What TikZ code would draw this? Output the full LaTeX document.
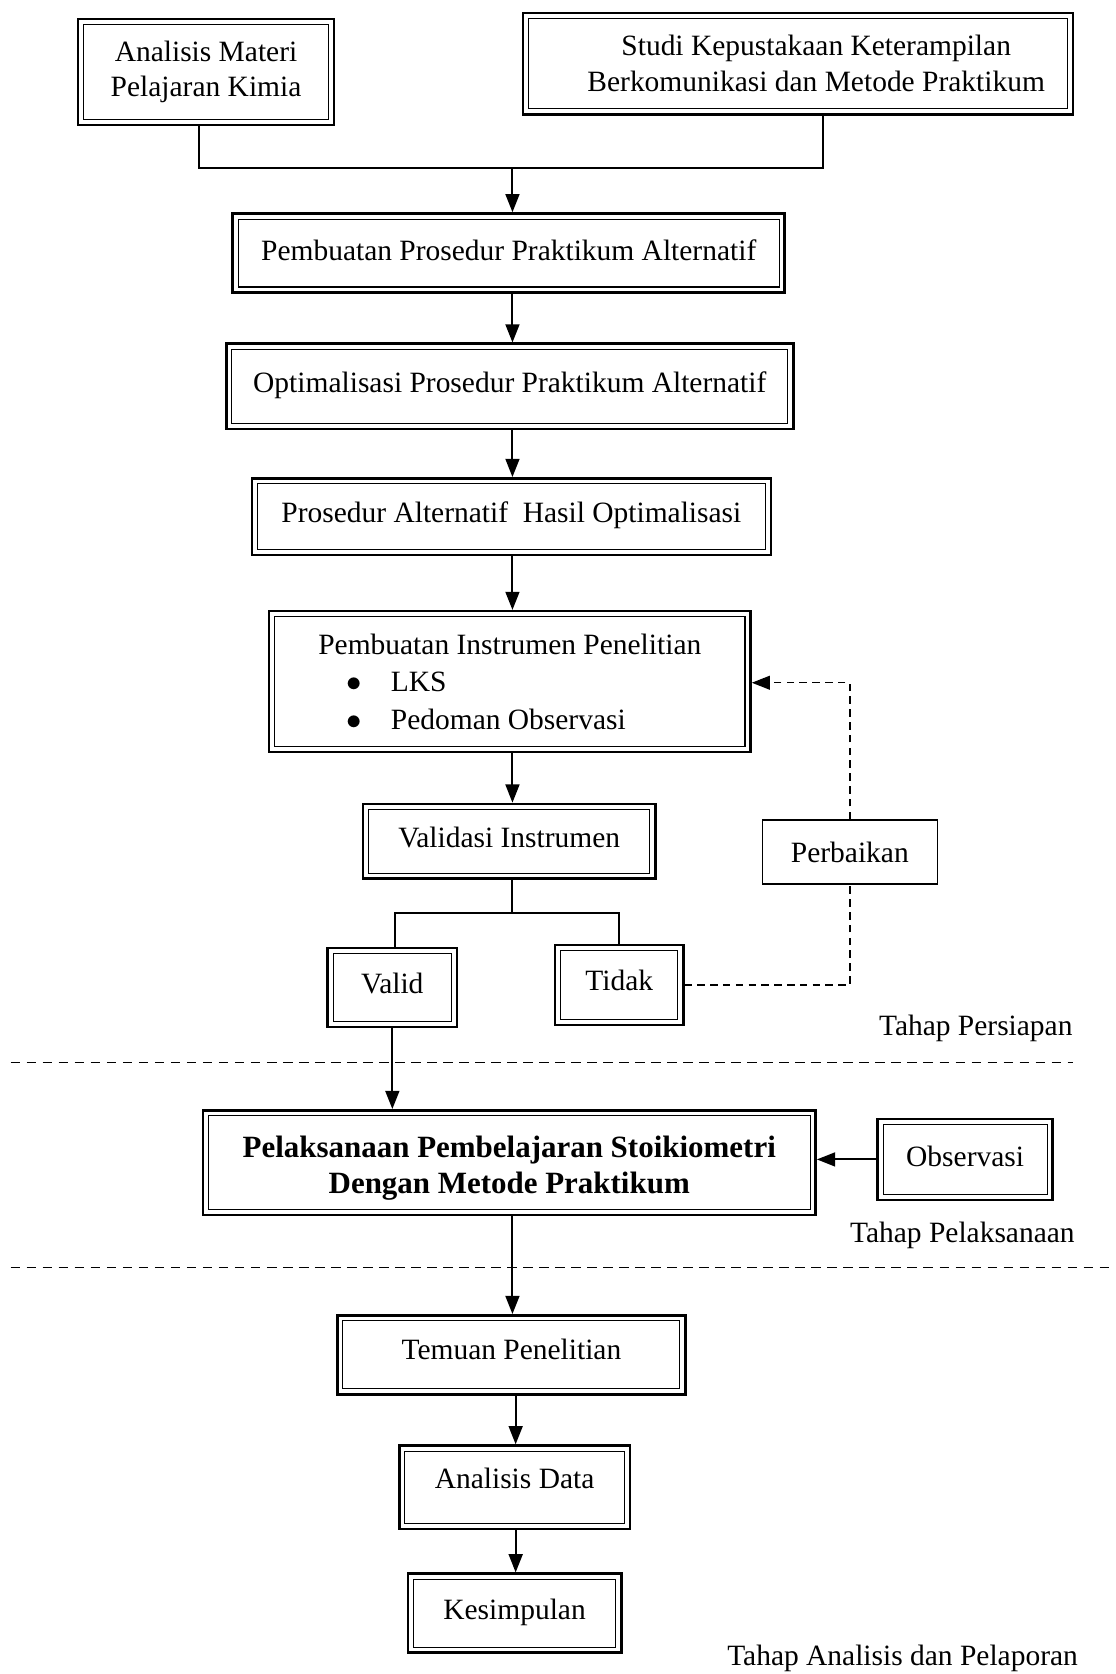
\documentclass[tikz,border=0pt]{standalone}
\usepackage{fontspec}
\setmainfont{Liberation Serif}
\usetikzlibrary{arrows.meta,calc}
\begin{document}
\begin{tikzpicture}[x=0.5pt,y=-0.5pt,
  font=\fontsize{13.8}{16.5}\selectfont,
  dbox/.style={draw, line width=1.2pt, inner sep=0pt, align=center,
    path picture={\draw[line width=0.5pt]
      ([shift={(2.6pt,2.6pt)}]path picture bounding box.south west) rectangle
      ([shift={(-2.6pt,-2.6pt)}]path picture bounding box.north east);}},
  sbox/.style={draw, line width=0.7pt, inner sep=0pt, align=center},
  conn/.style={line width=0.9pt},
  arr/.style={line width=0.9pt, -{Triangle[length=8.5pt,width=6.5pt]}},
  dsh/.style={line width=0.7pt, dash pattern=on 3.5pt off 2.5pt},
  sep/.style={line width=0.6pt, dash pattern=on 4.5pt off 3pt},
  lbl/.style={anchor=east, inner sep=0pt}
]
\useasboundingbox (0,0) rectangle (1045,1568);

% boxes
\node[dbox, minimum width=120pt, minimum height=49.5pt] (A) at (193,67.5) {Analisis Materi\\Pelajaran Kimia};
\node[dbox, minimum width=257.5pt, minimum height=47.5pt] (S) at (747.5,59.5)
  {\hspace*{17pt}Studi Kepustakaan Keterampilan\\\hspace*{17pt}Berkomunikasi dan Metode Praktikum};
\node[dbox, minimum width=258.5pt, minimum height=37pt, text depth=3pt] (P1) at (476.5,237) {Pembuatan Prosedur Praktikum Alternatif};
\node[dbox, minimum width=265.5pt, minimum height=40pt, text depth=4pt] (P2) at (477.5,362) {Optimalisasi Prosedur Praktikum Alternatif};
\node[dbox, minimum width=243pt, minimum height=36pt, text depth=4pt] (P3) at (479,484) {Prosedur Alternatif~ Hasil Optimalisasi};
\node[dbox, minimum width=225.5pt, minimum height=66pt, align=left, font=\fontsize{13.8}{17.5}\selectfont] (P4) at (477.5,638.5)
  {Pembuatan Instrumen Penelitian\\
   \hspace*{13pt}\makebox[21pt][l]{$\bullet$}LKS\\
   \hspace*{13pt}\makebox[21pt][l]{$\bullet$}Pedoman Observasi};
\node[dbox, minimum width=137pt, minimum height=35pt, text depth=4pt] (V) at (477,788) {Validasi Instrumen};
\node[sbox, minimum width=82pt, minimum height=30pt] (Perb) at (796,798) {Perbaikan};
\node[dbox, minimum width=60.5pt, minimum height=37pt, text depth=4pt] (Valid) at (367.5,925) {Valid};
\node[dbox, minimum width=60pt, minimum height=37.5pt, text depth=4pt] (Tidak) at (580,922.5) {Tidak};
\node[dbox, minimum width=287pt, minimum height=49pt, font=\fontsize{14.5}{17}\selectfont\bfseries] (Pel) at (477,1089)
  {\rule{0pt}{15pt}Pelaksanaan Pembelajaran Stoikiometri\\Dengan Metode Praktikum};
\node[dbox, minimum width=82pt, minimum height=38pt, text depth=3pt] (Obs) at (904,1086) {Observasi};
\node[dbox, minimum width=163pt, minimum height=37pt, text depth=5pt] (T) at (479,1269) {Temuan Penelitian};
\node[dbox, minimum width=108pt, minimum height=39pt, text depth=8pt] (AD) at (482,1393) {Analisis Data};
\node[dbox, minimum width=100pt, minimum height=37pt, text depth=4pt] (K) at (482,1511) {Kesimpulan};

% labels
\node[lbl] (L1) at (1005,963) {Tahap Persiapan};
\node[lbl] (L2) at (1007,1157) {Tahap Pelaksanaan};
\node[lbl] (L3) at (1010,1553) {Tahap Analisis dan Pelaporan};

% separators
\coordinate (s1a) at (10,995);  \coordinate (s1b) at (1005,995);
\coordinate (s2a) at (10,1187); \coordinate (s2b) at (1045,1187);
\draw[sep] (s1a) -- (s1b);
\draw[sep] (s2a) -- (s2b);

% connectors
\coordinate (j1) at (480,157);
\draw[conn] (A.south -| 186,0) |- (j1) -| (S.south -| 771,0);
\draw[arr] (j1) -- (P1.north -| j1);
\draw[arr] (P1.south -| 480,0) -- (P2.north -| 480,0);
\draw[arr] (P2.south -| 480,0) -- (P3.north -| 480,0);
\draw[arr] (P3.south -| 480,0) -- (P4.north -| 480,0);
\draw[arr] (P4.south -| 480,0) -- (V.north -| 480,0);
\coordinate (b1) at (480,855);
\draw[conn] (V.south -| b1) -- (b1);
\draw[conn] (Valid.north -| 370,0) |- (b1) -| (Tidak.north);
\draw[arr] (Valid.south) -- (Valid.south |- Pel.north);
\draw[dsh] (Tidak.east) -| (Perb.south);
\draw[dsh, -{Triangle[length=8.5pt,width=6.5pt]}] (Perb.north) |- ([yshift=-0.5pt]P4.east);
\draw[arr] (Obs.west) -- (Obs.west -| Pel.east);
\draw[arr] (Pel.south -| 480,0) -- (T.north -| 480,0);
\draw[arr] (T.south -| 483,0) -- (AD.north -| 483,0);
\draw[arr] (AD.south -| 483,0) -- (K.north -| 483,0);
\end{tikzpicture}
\end{document}
